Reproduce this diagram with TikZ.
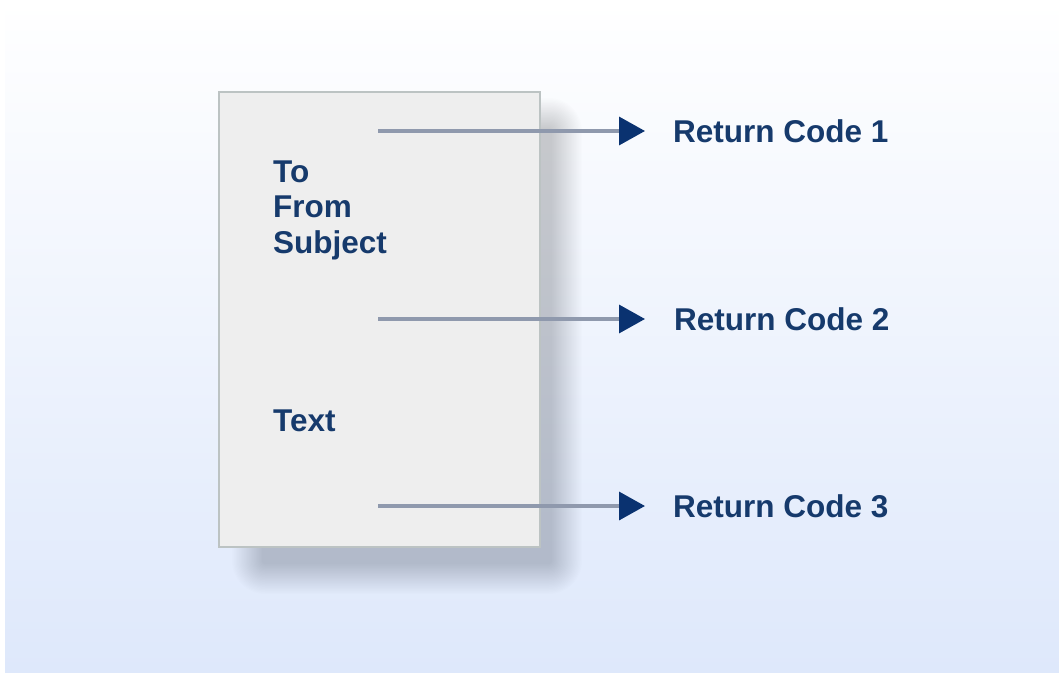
\documentclass[tikz,border=0pt]{standalone}
\usepackage{fontspec}
\setmainfont{Liberation Sans}
\usetikzlibrary{arrows.meta}
\definecolor{bgblue}{HTML}{DEE8FB}
\definecolor{navytext}{HTML}{163A6C}
\definecolor{navyhead}{HTML}{0A3270}
\definecolor{linegray}{HTML}{8F99AD}
\definecolor{boxfill}{HTML}{EEEEEE}
\definecolor{boxdraw}{HTML}{BCC3C3}
\definecolor{shadowcol}{HTML}{202A40}
\tikzset{
  docbox/.style={draw=boxdraw, line width=1.2pt, fill=boxfill, inner sep=0pt},
  shadowlayer/.style={fill=shadowcol, fill opacity=0.0095},
  lbl/.style={anchor=base west, inner sep=0pt, text=navytext,
    font=\fontsize{31.5}{35.5}\selectfont\bfseries},
  conn/.style={draw=linegray, line width=3.5pt,
    -{Triangle[length=26pt,width=28pt,fill=navyhead,color=navyhead]}}
}
\begin{document}
\begin{tikzpicture}[x=1pt,y=-1pt]
\useasboundingbox (0,0) rectangle (1059,677);
\shade[top color=white, bottom color=bgblue] (5,0) rectangle (1059,672);
% soft shadow of the page
\foreach \i in {0,...,24}{
  \pgfmathsetmacro{\r}{30-\i*1.25}
  \fill[shadowlayer, rounded corners=\r+3] (262-\r,128-\r) rectangle (552+\r,564+\r);
}
\node[docbox, minimum width=321pt, minimum height=455pt] (doc) at (379.5,319.5) {};
\node[lbl] (to) at (273,182) {To};
\node[lbl] (from) at (273,217) {From};
\node[lbl] (subject) at (273,253) {Subject};
\node[lbl] (text) at (273,431) {Text};
\node[lbl] (rc1) at (673,142) {Return Code 1};
\node[lbl] (rc2) at (674,330) {Return Code 2};
\node[lbl] (rc3) at (673,517) {Return Code 3};
\coordinate (s1) at (378,131);
\coordinate (e1) at (645,131);
\coordinate (s2) at (378,319);
\coordinate (e2) at (645,319);
\coordinate (s3) at (378,506);
\coordinate (e3) at (645,506);
\draw[conn] (s1) -- (e1);
\draw[conn] (s2) -- (e2);
\draw[conn] (s3) -- (e3);
\end{tikzpicture}
\end{document}
